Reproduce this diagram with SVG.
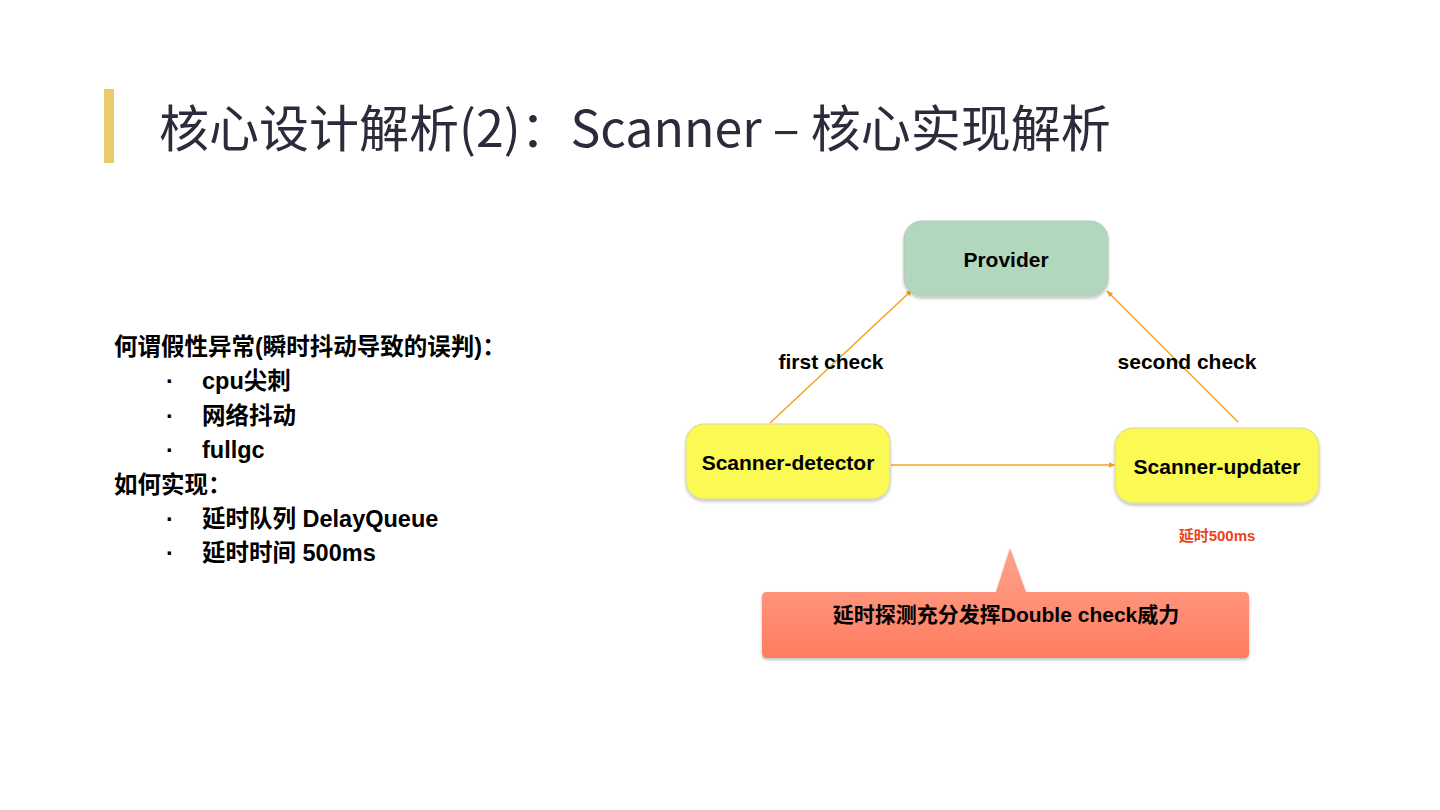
<svg xmlns="http://www.w3.org/2000/svg" width="1440" height="810" viewBox="0 0 1440 810">
<style>
.title{font-family:"Noto Sans CJK SC","Noto Sans",sans-serif;font-size:50px;fill:#2b2b3c}
.body{font-family:"Liberation Sans","Noto Sans CJK SC",sans-serif;font-size:23.5px;font-weight:bold;fill:#000}
.node{font-family:"Liberation Sans","Noto Sans CJK SC",sans-serif;font-size:21px;font-weight:bold;fill:#000;text-anchor:middle}
.lbl{font-family:"Liberation Sans","Noto Sans CJK SC",sans-serif;font-size:21px;font-weight:bold;fill:#000;text-anchor:middle}
.conn{stroke:#f4a21e;stroke-width:1.5;fill:none}
</style>
<defs>
<marker id="ah" viewBox="0 0 10 10" refX="9" refY="5" markerWidth="7" markerHeight="7" orient="auto" markerUnits="userSpaceOnUse">
<path d="M0,1 L10,5 L0,9 z" fill="#f4a21e"/>
</marker>
<filter id="sh" x="-10%" y="-10%" width="120%" height="130%">
<feDropShadow dx="0" dy="2" stdDeviation="1.5" flood-color="#000" flood-opacity="0.25"/>
</filter>
<linearGradient id="cg" x1="0" y1="0" x2="0" y2="1">
<stop offset="0" stop-color="#fea38c"/>
<stop offset="1" stop-color="#fe7c60"/>
</linearGradient>
</defs>
<rect width="1440" height="810" fill="#fff"/>
<rect x="104" y="89" width="10" height="74" fill="#e9cb6c"/>
<text class="title" x="159" y="147">核心设计解析(2)：Scanner – 核心实现解析</text>
<g id="text-left" class="body">
<text x="114" y="355">何谓假性异常(瞬时抖动导致的误判)：</text>
<text x="166" y="389">·</text><text x="202" y="389">cpu尖刺</text>
<text x="166" y="424">·</text><text x="202" y="424">网络抖动</text>
<text x="166" y="458">·</text><text x="202" y="458">fullgc</text>
<text x="114" y="493">如何实现：</text>
<text x="166" y="527">·</text><text x="202" y="527">延时队列 DelayQueue</text>
<text x="166" y="561">·</text><text x="202" y="561">延时时间 500ms</text>
</g>
<g id="connectors">
<line class="conn" x1="770" y1="423" x2="912" y2="290" marker-end="url(#ah)"/>
<line class="conn" x1="1238" y1="422" x2="1107" y2="291" marker-end="url(#ah)"/>
<line class="conn" x1="891" y1="465" x2="1115" y2="465" marker-end="url(#ah)"/>
<text class="lbl" x="831" y="369">first check</text>
<text class="lbl" x="1187" y="369">second check</text>
</g>
<g id="provider">
<rect x="904" y="221" width="204" height="75" rx="18" fill="#b1d8bd" stroke="#b8c7bc" stroke-width="1" filter="url(#sh)"/>
<text class="node" x="1006" y="267">Provider</text>
</g>
<g id="scanner-detector">
<rect x="686" y="424" width="204" height="75" rx="18" fill="#fbf952" stroke="#d8d6a0" stroke-width="1" filter="url(#sh)"/>
<text class="node" x="788" y="470">Scanner-detector</text>
</g>
<g id="scanner-updater">
<rect x="1115" y="428" width="204" height="75" rx="18" fill="#fbf952" stroke="#d8d6a0" stroke-width="1" filter="url(#sh)"/>
<text class="node" x="1217" y="474">Scanner-updater</text>
</g>
<g id="delay-label">
<text x="1217" y="541" text-anchor="middle" font-family="Liberation Sans,Noto Sans CJK SC,sans-serif" font-size="15" font-weight="bold" fill="#e8431f">延时500ms</text>
</g>
<g id="callout">
<path d="M762,597 Q762,592 767,592 L996,592 L1010,548 L1026,592 L1244,592 Q1249,592 1249,597 L1249,653 Q1249,658 1244,658 L767,658 Q762,658 762,653 Z" fill="url(#cg)" filter="url(#sh)"/>
<text class="node" x="1006" y="622">延时探测充分发挥Double check威力</text>
</g>
</svg>
